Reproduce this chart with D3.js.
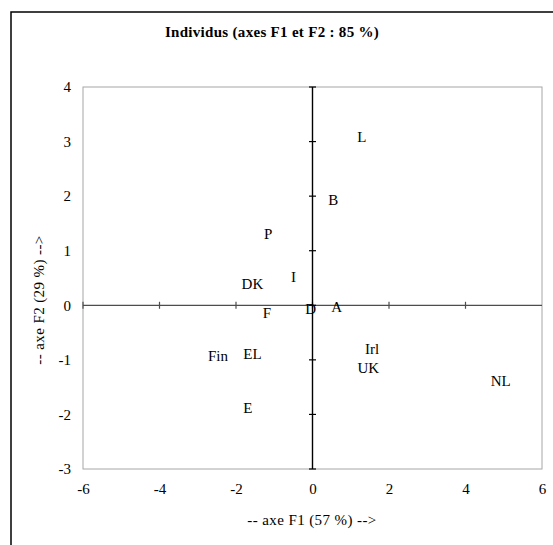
<!DOCTYPE html>
<html>
<head>
<meta charset="utf-8">
<script src="https://cdn.jsdelivr.net/npm/d3@7"></script>
<style>
  html, body { margin: 0; padding: 0; background: #fff; }
  svg { display: block; font-family: "Liberation Serif", "Times New Roman", serif; }
</style>
</head>
<body>
<svg id="chart" width="553" height="545"></svg>
<script>
// Individuals projected on the first factorial plane (PCA)
const countries = ["L", "B", "P", "I", "DK", "F", "D", "A", "Irl", "UK", "NL", "Fin", "EL", "E"];
const f1Scores  = [1.29, 0.54, -1.16, -0.50, -1.57, -1.19, -0.05, 0.63, 1.56, 1.46, 4.92, -2.47, -1.57, -1.69];
const f2Scores  = [3.08, 1.94, 1.32, 0.53, 0.40, -0.14, -0.07, -0.02, -0.79, -1.15, -1.39, -0.93, -0.89, -1.87];

const xTicks = [-6, -4, -2, 0, 2, 4, 6];
const yTicks = [-3, -2, -1, 0, 1, 2, 3, 4];

const titleText = "Individus (axes F1 et F2 : 85 %)";
const xTitle = "-- axe F1 (57 %) -->";
const yTitle = "-- axe F2 (29 %) -->";

const svg = d3.select("#chart");

const plot = { left: 83, right: 542, top: 87, bottom: 469 };

const x = d3.scaleLinear().domain([-6, 6]).range([plot.left, plot.right]);
const y = d3.scaleLinear().domain([-3, 4]).range([plot.bottom, plot.top]);

// plain hyphen-minus for negative numbers
const fmt = d => String(d);

// Outer chart frame (runs past the page edges on the right and bottom)
svg.append("rect")
  .attr("x", 11).attr("y", 12)
  .attr("width", 600).attr("height", 600)
  .attr("fill", "none")
  .attr("stroke", "#000")
  .attr("stroke-width", 1.5);

// Title
svg.append("text")
  .attr("x", 272).attr("y", 37)
  .attr("text-anchor", "middle")
  .attr("font-size", 15)
  .attr("font-weight", "bold")
  .attr("letter-spacing", 0.3)
  .text(titleText);

// Plot area border
svg.append("rect")
  .attr("x", plot.left).attr("y", plot.top)
  .attr("width", plot.right - plot.left).attr("height", plot.bottom - plot.top)
  .attr("fill", "none")
  .attr("stroke", "#a6a6a6")
  .attr("stroke-width", 1);

// Tick labels along the plot edges
const yAxis = svg.append("g")
  .attr("transform", `translate(${plot.left - 12},0)`)
  .call(d3.axisLeft(y).tickValues(yTicks).tickSize(0).tickPadding(0).tickFormat(fmt));
yAxis.select(".domain").remove();
yAxis.selectAll("text").attr("font-size", 15).attr("font-family", "Liberation Serif, serif").attr("fill", "#000");

const xAxis = svg.append("g")
  .attr("transform", `translate(0,${plot.bottom + 14})`)
  .call(d3.axisBottom(x).tickValues(xTicks).tickSize(0).tickPadding(0).tickFormat(fmt));
xAxis.select(".domain").remove();
xAxis.selectAll("text").attr("font-size", 15).attr("font-family", "Liberation Serif, serif").attr("fill", "#000");

// Horizontal axis through F2 = 0
svg.append("line")
  .attr("x1", plot.left).attr("x2", plot.right)
  .attr("y1", y(0)).attr("y2", y(0))
  .attr("stroke", "#4d4d4d").attr("stroke-width", 1.2);
svg.append("g").selectAll("line")
  .data(xTicks.slice(0, -1))
  .join("line")
  .attr("x1", d => x(d)).attr("x2", d => x(d))
  .attr("y1", y(0) - 3.5).attr("y2", y(0) + 3.5)
  .attr("stroke", "#4d4d4d").attr("stroke-width", 1.2);

// Vertical axis through F1 = 0
svg.append("line")
  .attr("x1", x(0)).attr("x2", x(0))
  .attr("y1", plot.top).attr("y2", plot.bottom)
  .attr("stroke", "#000").attr("stroke-width", 1.4);
svg.append("g").selectAll("line")
  .data(yTicks)
  .join("line")
  .attr("x1", x(0) - 3.5).attr("x2", x(0) + 3.5)
  .attr("y1", d => y(d)).attr("y2", d => y(d))
  .attr("stroke", "#000").attr("stroke-width", 1.2);

// Country labels placed at their factor scores
const pts = countries.map((c, i) => ({ name: c, f1: f1Scores[i], f2: f2Scores[i] }));
svg.append("g").selectAll("text")
  .data(pts)
  .join("text")
  .attr("x", d => x(d.f1))
  .attr("y", d => y(d.f2))
  .attr("dy", "0.35em")
  .attr("text-anchor", "middle")
  .attr("font-size", 15)
  .text(d => d.name);

// Axis titles
svg.append("text")
  .attr("x", 312).attr("y", 525)
  .attr("text-anchor", "middle")
  .attr("font-size", 15)
  .attr("letter-spacing", 0.4)
  .text(xTitle);

svg.append("text")
  .attr("transform", `translate(44,${(plot.top + plot.bottom) / 2 + 22}) rotate(-90)`)
  .attr("text-anchor", "middle")
  .attr("font-size", 15)
  .attr("letter-spacing", 0.4)
  .text(yTitle);
</script>
</body>
</html>
